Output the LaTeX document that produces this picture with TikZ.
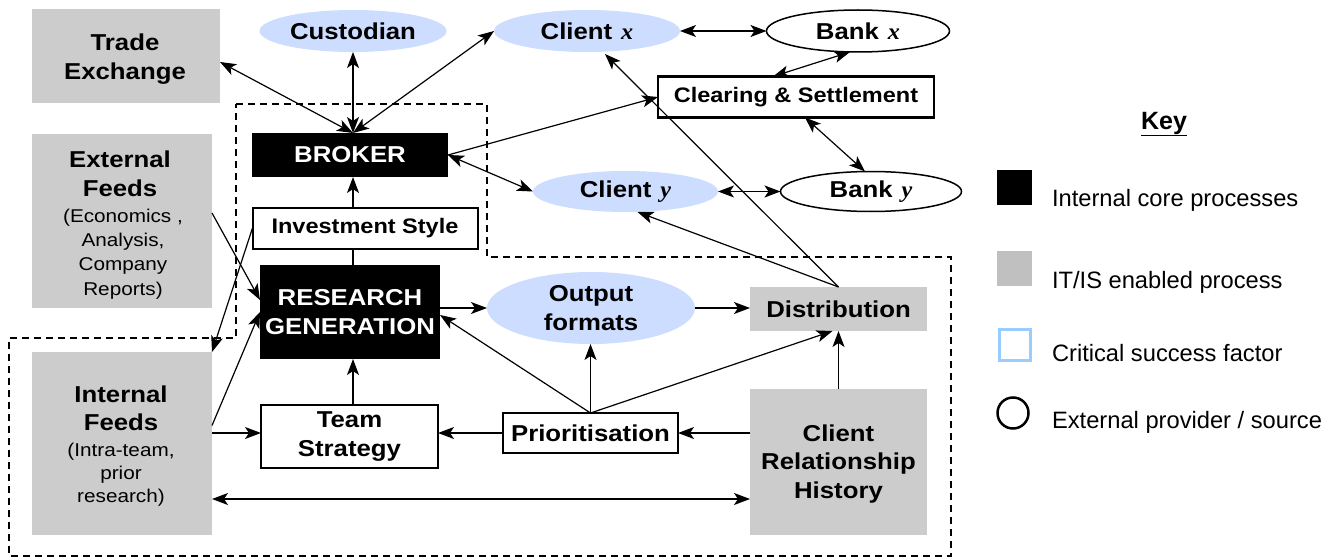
\documentclass[tikz,border=0pt]{standalone}
\usepackage{fontspec}
\setmainfont{Liberation Sans}
\newfontfamily\dfont{Liberation Sans}[FakeStretch=1.12]
\newfontfamily\xfont{Liberation Serif}[FakeStretch=1.05]
\usetikzlibrary{shapes.geometric,arrows.meta}
\definecolor{cblue}{HTML}{CCDDFF}
\definecolor{dgray}{HTML}{CCCCCC}
\definecolor{kgray}{HTML}{C0C0C0}
\definecolor{kblue}{HTML}{99CCFF}
\newcommand\fbig{\dfont\bfseries\fontsize{23}{28.5}\selectfont}
\newcommand\fsm{\dfont\bfseries\fontsize{21}{24}\selectfont}
\newcommand\fparA{\dfont\fontsize{18.5}{24.3}\selectfont}
\newcommand\fparB{\dfont\fontsize{18.5}{23}\selectfont}
\newcommand\fkey{\fontsize{23.7}{28}\selectfont}
\newcommand\fkeyb{\bfseries\fontsize{25}{28}\selectfont}
\newcommand\vx[1]{\hspace{9pt}{\xfont\itshape #1}}
\begin{document}
\begin{tikzpicture}[x=1pt,y=-1pt,
  every node/.style={inner sep=0pt, outer sep=0pt},
  >={Stealth[length=16pt,width=12pt,inset=4pt]},
  conn/.style={line width=1.2pt,->},
  both/.style={line width=1.2pt,<->},
  plain/.style={line width=1.2pt},
  graybox/.style={rectangle, fill=dgray, align=center},
  blackbox/.style={rectangle, fill=black, text=white, align=center, font=\fbig},
  whitebox/.style={rectangle, draw, line width=2pt, fill=white, align=center},
  blueell/.style={ellipse, fill=cblue},
  whiteell/.style={ellipse, draw, line width=1.5pt, fill=white},
  keytext/.style={anchor=west, font=\fkey},
]
\useasboundingbox[fill=white] (0,0) rectangle (1335,559);

% dashed boundary
\draw[line width=1.8pt, dash pattern=on 7pt off 5pt]
  (236,104) -- (487,104) -- (487,257) -- (951,257) -- (951,556)
  -- (9,556) -- (9,338) -- (236,338) -- cycle;

% nodes
\node[graybox, minimum width=188, minimum height=94] (te) at (126,56) {};
\node[font=\fbig, align=center] (tet) at (125,59) {Trade\\Exchange};
\node[blueell, minimum width=187, minimum height=42, label={center:{\fbig Custodian}}] (cust) at (353,31) {};
\node[blueell, minimum width=186, minimum height=42, label={center:{\fbig Client\vx{x}}}] (cx) at (587,31) {};
\node[whiteell, minimum width=183, minimum height=42, label={center:{\fbig Bank\vx{x}}}] (bx) at (858,31) {};
\node[whitebox, line width=2.5pt, minimum width=276, minimum height=41, font=\fsm] (cs) at (796,97) {Clearing \& Settlement};
\node[blackbox, minimum width=196, minimum height=44] (broker) at (350,155) {BROKER};
\node[whitebox, minimum width=225, minimum height=41, font=\fsm] (inv) at (365,228) {Investment Style};
\node[blueell, minimum width=185, minimum height=41, label={center:{\fbig Client\vx{y}}}] (cy) at (625.5,191.5) {};
\node[whiteell, minimum width=181, minimum height=40, label={center:{\fbig Bank\vx{y}}}] (by) at (871,191.5) {};

\node[graybox, minimum width=180, minimum height=174] (ef) at (122,221) {};
\node[font=\fbig, align=center] (eft) at (120,174) {External\\Feeds};
\node[font=\fparA, align=center] (efp) at (123,254) {(Economics ,\\Analysis,\\Company\\Reports)};

\node[blackbox, minimum width=180, minimum height=94] (rg) at (350,312) {RESEARCH\\GENERATION};
\node[blueell, minimum width=208, minimum height=72, label={center:{\parbox{150pt}{\centering\fbig Output\\formats}}}] (of) at (591,308) {};
\node[graybox, minimum width=177, minimum height=44, font=\fbig] (dist) at (838.5,309) {Distribution};

\node[graybox, minimum width=180, minimum height=183] (inf) at (122,443.5) {};
\node[font=\fbig, align=center] (inft) at (121,408.5) {Internal\\Feeds};
\node[font=\fparB, align=center] (infp) at (121,475) {(Intra-team,\\prior\\research)};

\node[whitebox, minimum width=177, minimum height=63, font=\fbig] (ts) at (349.5,436.5) {Team\\Strategy};
\node[whitebox, minimum width=175, minimum height=40, font=\fbig] (pri) at (590.5,433) {Prioritisation};
\node[graybox, minimum width=177, minimum height=146] (crh) at (838.5,462) {};
\node[font=\fbig, align=center] (crht) at (838.5,464) {Client\\Relationship\\History};

% helper coordinates
\coordinate (axis) at (353,0);
\coordinate (row) at (0,433);
\coordinate (bot) at (0,499);
\coordinate (bt) at (353,133);

% connectors
\draw[both] ([yshift=-6pt]te.east) -- (bt);
\draw[both] (cust.south) -- (bt);
\draw[both] (cx.west) -- (bt);
\draw[both] (cx.east) -- (bx.west);
\draw[both] ([xshift=-8pt]bx.south) -- ([xshift=-23pt]cs.north);
\draw[both] ([xshift=9pt]cs.south) -- ([xshift=-6pt]by.north);
\draw[conn] (broker.east) -- (cs.west);
\draw[both] (broker.east) -- (cy.west);
\draw[both] (cy.east) -- (by.west);
\draw[conn] (inv.north -| axis) -- (broker.south -| axis);
\draw[plain] (rg.north -| axis) -- (inv.south -| axis);
\draw[conn] ([yshift=8pt]ef.east) -- ([yshift=12pt]rg.west);
\draw[conn] (inv.west) -- (inf.north east);
\draw[conn] ([yshift=18pt]inf.east) -- (rg.west);
\draw[conn] (inf.east |- row) -- (ts.west |- row);
\draw[conn] (ts.north -| axis) -- (rg.south -| axis);
\draw[conn] (rg.east |- of.west) -- (of.west);
\draw[conn] (of.east) -- (dist.west |- of.east);
\draw[conn] (pri.west) -- (ts.east |- pri.west);
\draw[conn] (crh.west |- pri.east) -- (pri.east);
\draw[conn] (pri.north) -- ([yshift=-3pt]rg.east);
\draw[conn] (pri.north) -- (of.south -| pri.north);
\draw[conn] (pri.north) -- ([xshift=-6pt]dist.south);
\draw[conn] (crh.north) -- (dist.south);
\draw[both] (inf.east |- bot) -- (crh.west |- bot);
\draw[conn] (dist.north) -- ([xshift=18pt,yshift=-2pt]cx.south);
\draw[conn] (dist.north) -- ([xshift=12pt]cy.south);

% key
\node[font=\fkeyb] (key) at (1164,124) {\underline{Key}};
\node[fill=black, minimum width=35, minimum height=35] (k1) at (1014.5,187.5) {};
\node[fill=kgray, minimum width=35, minimum height=35] (k2) at (1014.5,268.5) {};
\node[draw=kblue, line width=3pt, minimum width=31, minimum height=31] (k3) at (1014.5,345) {};
\node[circle, draw, line width=2.5pt, minimum size=31] (k4) at (1013,413) {};
\node[keytext] (k1t) at (1052,200) {Internal core processes};
\node[keytext] (k2t) at (1052,282) {IT/IS enabled process};
\node[keytext] (k3t) at (1052,353) {Critical success factor};
\node[keytext] (k4t) at (1052,422) {External provider / source};
\end{tikzpicture}
\end{document}
